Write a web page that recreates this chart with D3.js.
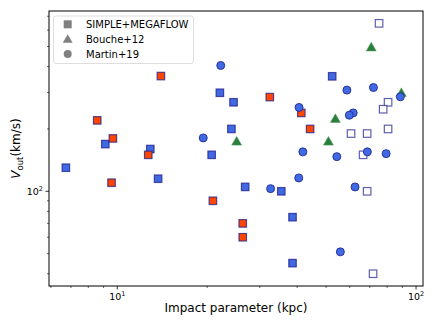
<!DOCTYPE html>
<html>
<head>
<meta charset="utf-8">
<script src="https://cdn.jsdelivr.net/npm/d3@7"></script>
<style>
  body { margin: 0; background: #fff; }
  text { font-family: "DejaVu Sans", sans-serif; fill: #000; }
</style>
</head>
<body>
<script>
// SIMPLE+MEGAFLOW, blue filled squares (b in kpc, vout in km/s)
var megaBlueB = [6.73, 9.12, 12.9, 13.7, 22.05, 24.5, 24.1, 20.7, 26.8, 35.4, 38.6, 38.6, 52.4];
var megaBlueV = [130, 169, 160, 115, 299, 269, 200, 150, 105, 100, 75, 45, 359];
// SIMPLE+MEGAFLOW, red filled squares
var megaRedB = [14.0, 8.57, 9.67, 12.7, 9.57, 32.4, 41.3, 44.2, 20.9, 26.3, 26.3];
var megaRedV = [360, 220, 180, 150, 110, 285, 239, 200, 90, 70, 60];
// SIMPLE+MEGAFLOW, open squares
var megaOpenB = [75.2, 80.6, 77.6, 60.6, 68.6, 80.6, 66.5, 68.6, 71.8];
var megaOpenV = [647, 269, 249, 190, 190, 200, 150, 100, 40];
// Bouche+12
var boucheB = [70.8, 89.3, 53.7, 50.9, 25.1];
var boucheV = [496, 299, 224, 174, 174];
// Martin+19
var martinB = [22.2, 19.4, 40.6, 58.7, 72.0, 88.6, 61.6, 59.8, 41.8, 54.3, 68.7, 79.4, 40.5, 32.6, 62.5, 55.8];
var martinV = [405, 181, 254, 308, 317, 286, 239, 233, 155, 147, 155, 152, 116, 103, 105, 51];

var legendLabels = ["SIMPLE+MEGAFLOW", "Bouche+12", "Martin+19"];
var xMajor = [10, 100];
var xMinor = [6, 7, 8, 9, 20, 30, 40, 50, 60, 70, 80, 90];
var yMajor = [100];
var yMinor = [40, 50, 60, 70, 80, 90, 200, 300, 400, 500, 600, 700];

var W = 436, H = 327;
var margin = {top: 11, right: 13, bottom: 41, left: 49};
var x0 = margin.left, x1 = W - margin.right, y0 = margin.top, y1 = H - margin.bottom;

var svg = d3.select("body").append("svg")
    .attr("width", W)
    .attr("height", H);

var x = d3.scaleLog().domain([5.91, 105.5]).range([x0, x1]);
var y = d3.scaleLog().domain([34.9, 742]).range([y1, y0]);

function zip(a, b) { return a.map(function(d, i) { return [d, b[i]]; }); }

// ticks
var g = svg.append("g");
g.selectAll(".xmaj").data(xMajor).enter().append("line")
    .attr("x1", d => x(d)).attr("x2", d => x(d))
    .attr("y1", y1).attr("y2", y1 + 3.5)
    .attr("stroke", "#000").attr("stroke-width", 0.8);
g.selectAll(".xmin").data(xMinor).enter().append("line")
    .attr("x1", d => x(d)).attr("x2", d => x(d))
    .attr("y1", y1).attr("y2", y1 + 2)
    .attr("stroke", "#000").attr("stroke-width", 0.6);
g.selectAll(".ymaj").data(yMajor).enter().append("line")
    .attr("y1", d => y(d)).attr("y2", d => y(d))
    .attr("x1", x0).attr("x2", x0 - 3.5)
    .attr("stroke", "#000").attr("stroke-width", 0.8);
g.selectAll(".ymin").data(yMinor).enter().append("line")
    .attr("y1", d => y(d)).attr("y2", d => y(d))
    .attr("x1", x0).attr("x2", x0 - 2)
    .attr("stroke", "#000").attr("stroke-width", 0.6);

function powLabel(sel, d) {
  var e = Math.round(Math.log10(d));
  sel.append("tspan").text("10");
  sel.append("tspan").attr("dy", -4).attr("font-size", "6.5px").text(e);
}

g.selectAll(".xlab").data(xMajor).enter().append("text")
    .attr("x", d => x(d)).attr("y", y1 + 13.5)
    .attr("text-anchor", "middle")
    .attr("font-size", "9.5px")
    .each(function(d) { powLabel(d3.select(this), d); });

g.selectAll(".ylab").data(yMajor).enter().append("text")
    .attr("x", x0 - 6).attr("y", d => y(d) + 3.5)
    .attr("text-anchor", "end")
    .attr("font-size", "9.5px")
    .each(function(d) { powLabel(d3.select(this), d); });

// axis labels
svg.append("text")
    .attr("x", (x0 + x1) / 2).attr("y", 311.5)
    .attr("text-anchor", "middle")
    .attr("font-size", "12px")
    .text("Impact parameter (kpc)");

var yl = svg.append("text")
    .attr("transform", "translate(20," + ((y0 + y1) / 2) + ") rotate(-90)")
    .attr("text-anchor", "middle")
    .attr("font-size", "12px");
yl.append("tspan").attr("font-style", "italic").text("V");
yl.append("tspan").attr("dy", 2.5).attr("font-size", "8.5px").text("out");
yl.append("tspan").attr("dy", -2.5).text("(km/s)");

// points
var pts = svg.append("g");
var sq = 7.5;

function squares(data, fill, stroke, op) {
  pts.append("g").selectAll("rect").data(data).enter().append("rect")
      .attr("x", d => x(d[0]) - sq / 2)
      .attr("y", d => y(d[1]) - sq / 2)
      .attr("width", sq).attr("height", sq)
      .attr("fill", fill)
      .attr("stroke", stroke)
      .attr("stroke-opacity", op)
      .attr("stroke-width", 1.2);
}
squares(zip(megaBlueB, megaBlueV), "#4169e1", "#1e1e8c", 0.75);
squares(zip(megaRedB, megaRedV), "#ff4500", "#1e1e8c", 0.75);
squares(zip(megaOpenB, megaOpenV), "#ffffff", "#2a2a95", 0.75);

var tri = d3.symbol().type(d3.symbolTriangle).size(42);
pts.append("g").selectAll("path").data(zip(boucheB, boucheV)).enter().append("path")
    .attr("d", tri)
    .attr("transform", d => "translate(" + x(d[0]) + "," + (y(d[1]) + 0.8) + ")")
    .attr("fill", "#2a7f3c")
    .attr("stroke", "#4f9a5e")
    .attr("stroke-width", 0.6);

pts.append("g").selectAll("circle").data(zip(martinB, martinV)).enter().append("circle")
    .attr("cx", d => x(d[0])).attr("cy", d => y(d[1]))
    .attr("r", 4)
    .attr("fill", "#4169e1")
    .attr("stroke", "#1e2a96")
    .attr("stroke-width", 0.9);

// frame
svg.append("rect")
    .attr("x", x0).attr("y", y0)
    .attr("width", x1 - x0).attr("height", y1 - y0)
    .attr("fill", "none")
    .attr("stroke", "#000")
    .attr("stroke-width", 1);

// legend
var lg = svg.append("g");
lg.append("rect")
    .attr("x", 53.5).attr("y", 16).attr("width", 140).attr("height", 47.5)
    .attr("rx", 2.5)
    .attr("fill", "#fff").attr("fill-opacity", 0.8)
    .attr("stroke", "#d6d6d6").attr("stroke-width", 0.8);
var rowY = [24.3, 39.2, 54];
lg.append("rect")
    .attr("x", 67.7 - 4).attr("y", rowY[0] - 4).attr("width", 8).attr("height", 8)
    .attr("fill", "#808080");
lg.append("path")
    .attr("d", tri)
    .attr("transform", "translate(67.7," + (rowY[1] + 0.8) + ")")
    .attr("fill", "#808080");
lg.append("circle")
    .attr("cx", 67.7).attr("cy", rowY[2]).attr("r", 4)
    .attr("fill", "#808080");
lg.selectAll(".lt").data(legendLabels).enter().append("text")
    .attr("x", 86).attr("y", (d, i) => rowY[i] + 3.6)
    .attr("font-size", "10px")
    .text(d => d);
</script>
</body>
</html>
